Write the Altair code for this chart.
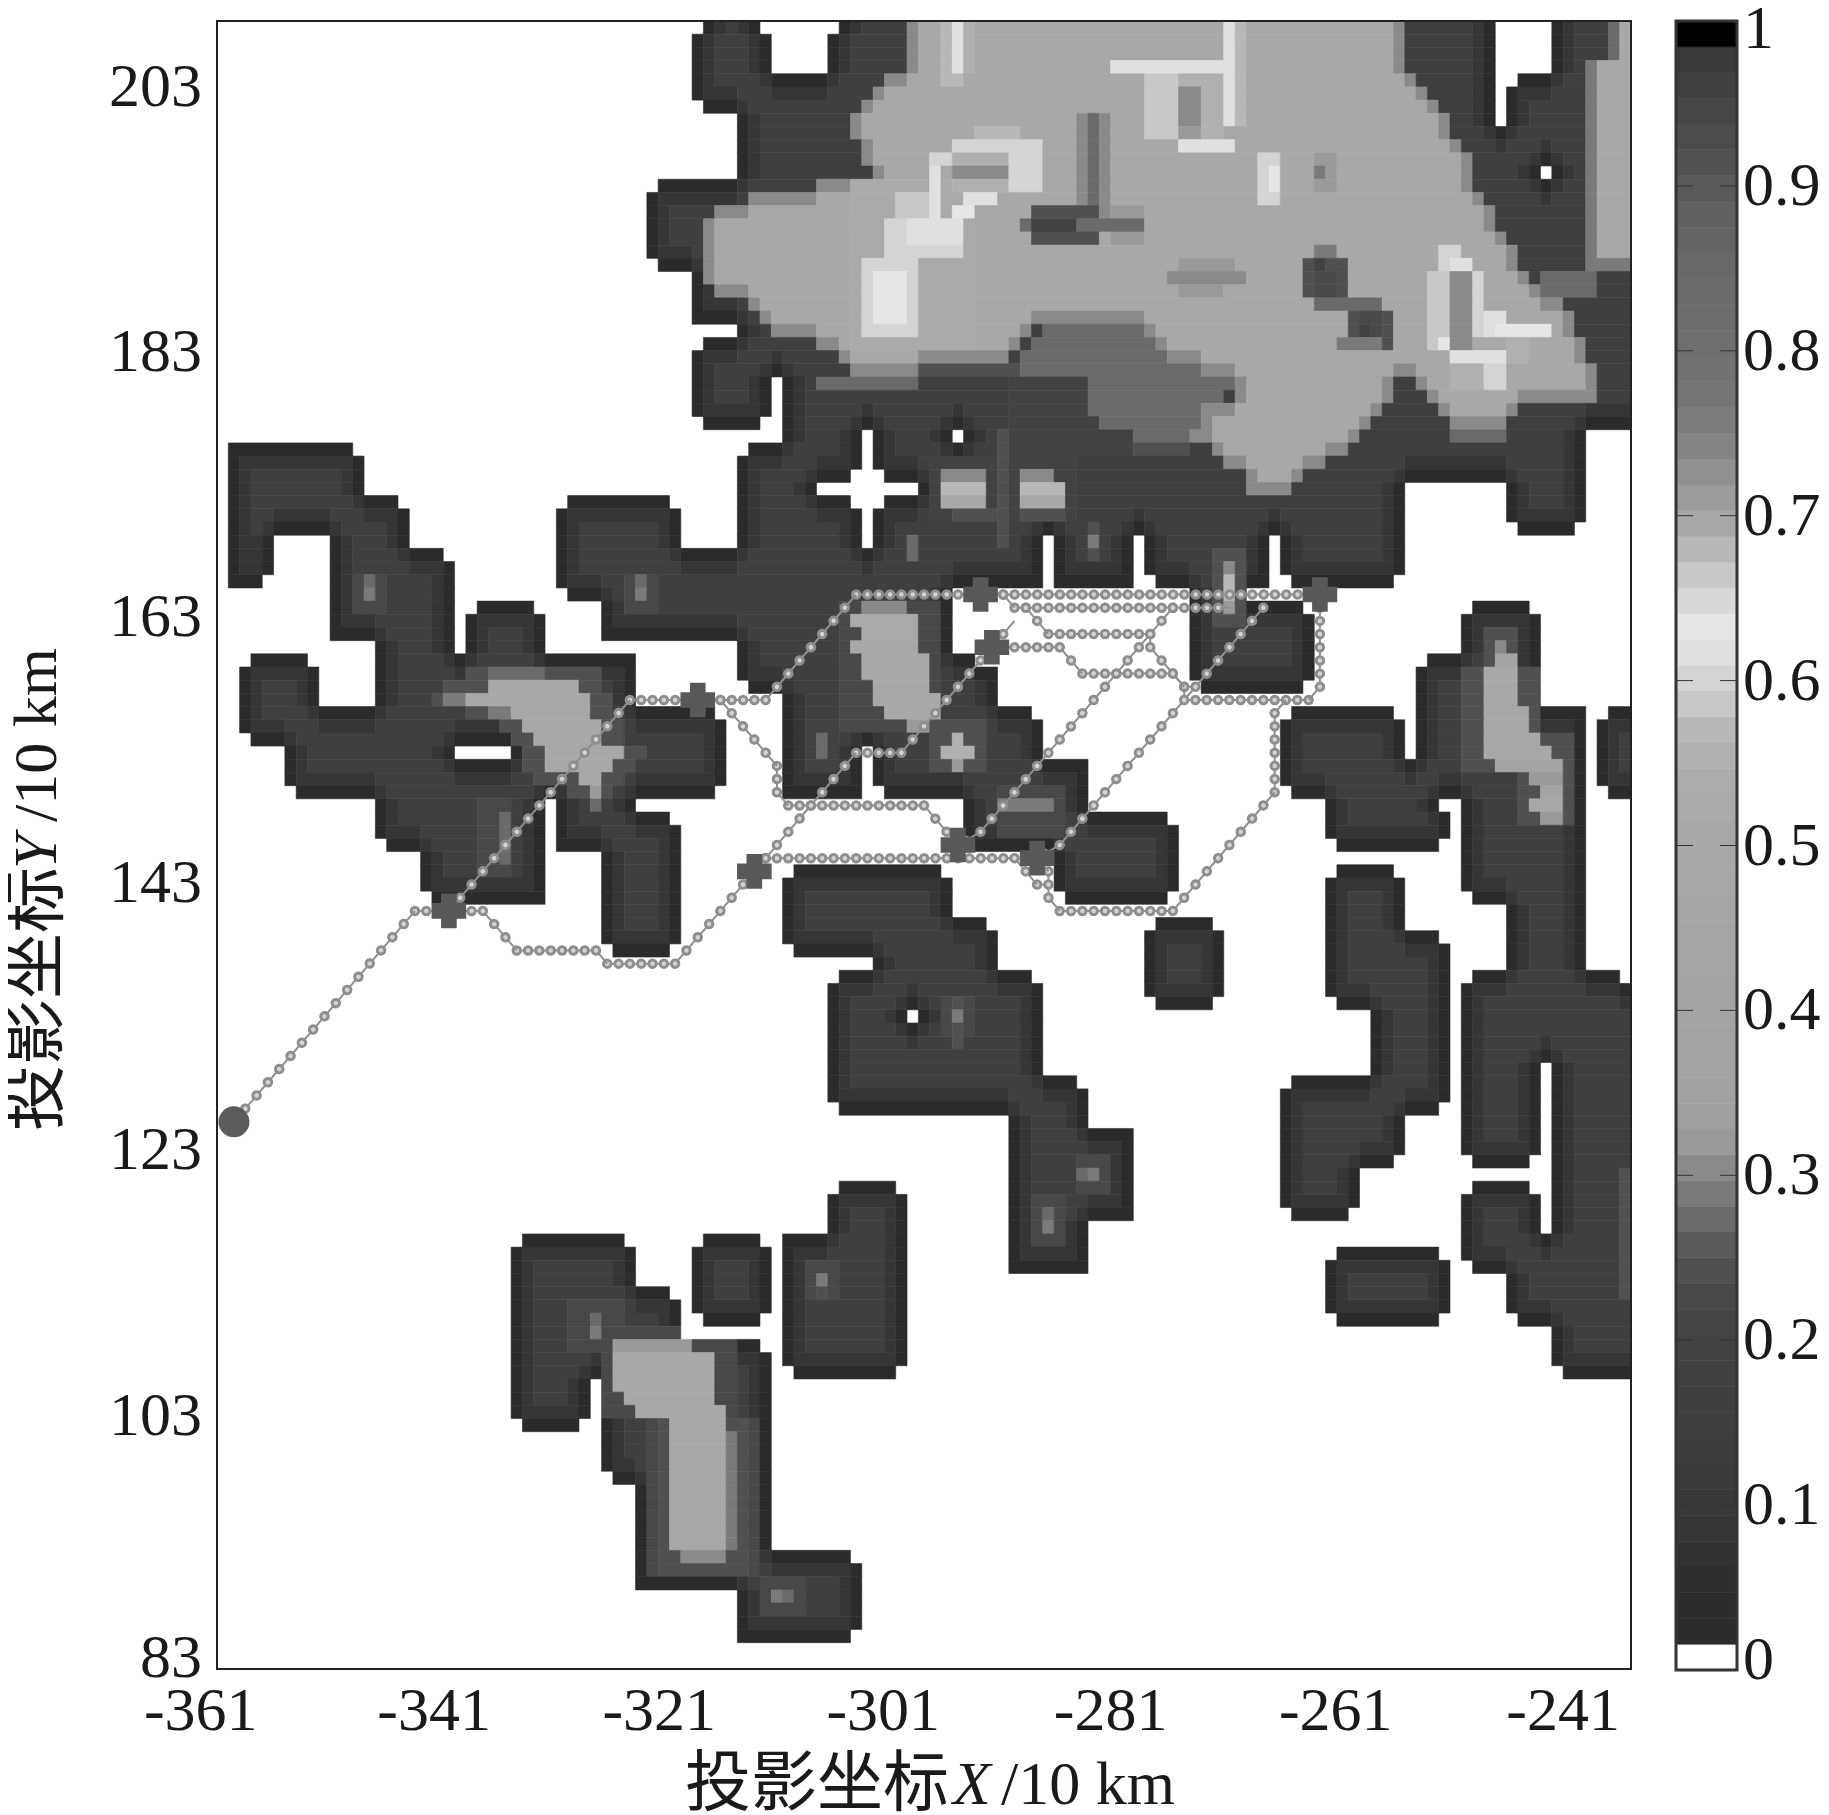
import numpy as np
import pandas as pd
import altair as alt

alt.data_transformers.disable_max_rows()

N = 125
# (row0, row1, col0, col1): areas where the field is above zero
MASK = [
 (0,1,43,48),(0,1,55,113),(0,1,118,125),(1,4,42,49),(1,4,54,113),(1,4,118,125),
 (4,5,42,113),(4,5,115,125),(5,6,42,113),(5,6,114,125),(6,7,43,113),(6,7,114,125),
 (7,8,46,113),(7,8,114,125),(8,12,46,125),(12,13,39,125),(13,18,38,125),(18,19,39,125),
 (19,23,42,125),(23,24,46,125),(24,25,43,125),(25,27,42,125),(27,30,42,49),(27,30,50,125),
 (30,31,43,48),(30,31,50,125),(31,32,50,57),(31,32,58,65),(31,32,66,121),(32,33,47,57),
 (32,33,58,121),(33,35,46,121),(35,42,46,105),(42,43,46,104),(35,38,114,121),(38,39,115,120),
 (36,37,31,40),(37,40,30,41),(40,43,30,46),(43,44,31,65),(44,47,34,65),(47,48,46,65),
 (48,49,46,67),(49,50,46,69),(50,51,47,69),(51,52,50,69),(52,53,50,72),(53,56,50,73),
 (56,58,50,77),(58,59,50,77),(59,63,66,77),(60,61,77,84),(61,66,74,85),(66,67,75,84),
 (43,44,86,91),(44,45,86,96),(45,50,86,97),(50,51,87,96),
 (32,33,1,12),(33,36,1,13),(36,37,1,16),(37,39,1,17),(39,40,1,5),(39,40,10,17),(40,42,1,5),
 (42,43,1,4),(40,41,10,20),(41,47,10,21),(47,48,14,21),(44,45,23,28),(45,48,22,29),
 (48,52,14,37),(48,49,3,8),(49,52,2,9),(52,53,2,44),(53,54,2,45),(54,55,3,45),(55,58,6,45),
 (58,59,7,44),(59,62,14,29),(59,60,30,37),(60,61,30,40),(61,63,30,41),(62,63,15,29),
 (63,66,18,29),(66,67,19,29),(63,70,34,41),(70,71,35,40),
 (64,65,51,64),(65,68,50,65),(68,69,50,68),(69,70,50,69),(70,71,51,69),(71,72,58,69),
 (72,73,55,72),(73,80,54,73),(80,81,54,76),(81,82,54,77),(82,83,55,77),(83,84,70,77),
 (84,91,70,81),(91,95,70,77),(68,69,83,88),(69,74,82,89),(74,75,83,88),
 (88,89,55,60),(89,92,54,61),(92,102,50,61),(102,103,51,60),(92,93,43,48),(93,98,42,49),
 (98,99,43,48),(92,93,27,36),(93,96,26,37),(96,97,26,40),(97,100,26,41),(100,101,26,48),
 (101,103,26,49),(103,106,26,33),(103,110,34,49),(106,107,27,32),(110,111,35,49),
 (111,116,37,49),(116,117,37,56),(117,119,37,57),(119,122,46,57),(122,123,46,56),
 (44,45,111,116),(45,48,110,117),(48,49,107,117),(49,52,106,117),(52,53,95,104),(52,53,106,121),
 (53,56,94,105),(53,56,106,121),(56,58,94,121),(58,59,95,121),(59,60,98,108),(60,62,98,109),
 (62,63,99,108),(59,66,110,121),(66,67,111,121),(67,72,114,121),(72,73,111,124),(73,86,110,125),
 (86,87,111,116),(86,92,118,125),(88,89,111,116),(89,92,110,117),(92,94,110,125),(94,95,111,125),
 (95,98,114,125),(98,99,115,125),(99,102,118,125),(102,103,119,125),
 (64,65,99,104),(65,69,98,105),(69,70,98,108),(70,74,98,109),(74,75,99,109),(75,80,102,109),
 (80,81,95,109),(81,82,94,109),(82,83,94,108),(83,86,94,105),(86,87,94,104),(87,90,94,101),
 (90,91,95,100),(93,94,99,108),(94,98,98,109),(98,99,99,108),(52,53,123,125),(53,58,122,125),
 (58,59,123,125),
]
# white holes inside those areas
HOLES = [
 (31,40,57,58),(35,36,53,62),(34,37,56,59),(39,43,73,74),(39,43,81,82),(42,43,82,83),
 (39,43,93,94),(42,43,94,95),(55,59,57,58),(58,59,58,59),(55,56,21,26),(75,76,61,62),
 (11,12,117,118),(79,92,117,118),
]
# the pale plateau at the top: row, col0, col1
PLATEAU = [
 (0,61,105),(1,61,105),(2,61,105),(3,61,105),(4,59,106),(5,58,107),(6,57,108),(7,56,109),(8,56,109),
 (9,57,110),(10,57,111),(11,58,111),(12,53,111),(13,47,112),(14,44,113),(15,43,113),(16,43,114),
 (17,43,115),(18,43,115),(19,43,116),(20,44,117),(21,47,119),(22,48,120),(23,49,72),(23,82,120),
 (24,53,71),(24,83,121),(25,55,70),(25,84,121),(26,56,62),(26,87,122),(27,90,104),(27,106,122),
 (28,90,104),(28,107,122),(29,87,103),(29,108,115),(30,87,102),(30,109,114),(31,86,101),
 (32,88,100),(33,89,98),(34,91,96),(35,91,95),
]
RIM, RING, BODY, PLATEAU_RIM, PLATEAU_BODY = 0.03, 0.08, 0.17, 0.30, 0.48
# later patches are painted over earlier ones: row0, row1, col0, col1, value
PATCHES = [
 (27,28,53,62,.27),(26,27,62,71,.24),(27,33,70,81,.2),(23,24,73,82,.27),(24,25,72,83,.27),
 (25,26,71,84,.27),(26,27,71,87,.27),(27,28,77,90,.27),(28,29,77,89,.27),(29,30,77,87,.27),
 (30,31,78,87,.27),(31,32,81,86,.27),(32,33,81,86,.24),(31,32,109,114,.27),
 (0,3,124,125,.48),(0,3,123,124,.27),(3,18,122,125,.48),(3,19,121,122,.29),(18,19,122,125,.29),
 (19,21,117,122,.27),
 (12,25,56,67,.53),
 (0,5,64,66,.565),(0,4,65,66,.615),(0,4,66,67,.55),(3,4,79,90,.615),(0,8,89,90,.615),(0,8,90,91,.565),
 (9,10,85,90,.615),(4,9,82,85,.58),(4,9,85,89,.55),(5,8,85,87,.305),(8,9,85,87,.32),
 (10,14,92,94,.60),(11,13,93,94,.63),(10,13,97,99,.32),(11,12,97,98,.29),
 (18,19,85,90,.32),(19,20,84,91,.305),(20,21,85,89,.32),
 (17,18,97,99,.29),(18,21,96,100,.245),(18,20,97,98,.2),(19,21,97,99,.22),(21,22,97,103,.27),
 (22,25,100,104,.245),(22,24,101,103,.22),(23,24,101,102,.2),(24,25,99,103,.29),
 (17,19,108,110,.6),(19,25,107,109,.58),(18,25,109,111,.305),(18,19,109,111,.615),(19,24,111,112,.60),
 (22,24,112,114,.615),(23,24,113,118,.63),(24,25,108,109,.63),(25,26,109,114,.615),(26,28,109,112,.55),
 (26,28,112,114,.6),(24,26,114,116,.55),
 (7,16,76,79,.305),(7,16,77,78,.27),(14,17,72,78,.245),(14,17,79,82,.32),(15,16,71,82,.27),(15,16,72,76,.2),
 (13,18,60,64,.58),(15,18,59,66,.6),(18,24,57,62,.6),(19,23,58,61,.63),
 (11,15,63,64,.615),(10,11,63,65,.6),(9,10,65,71,.6),(8,9,67,71,.565),(9,13,70,73,.6),(10,11,65,70,.55),
 (11,12,65,70,.305),(12,13,65,70,.55),(13,14,66,69,.615),(14,15,65,67,.63),(15,17,61,66,.615),
 # blob with the bright core on the left
 (49,50,22,34,.245),(50,51,20,34,.245),(51,52,19,35,.245),(52,53,22,35,.245),(53,54,25,36,.245),
 (54,55,26,36,.245),(55,56,27,38,.245),(56,57,27,37,.245),(57,58,28,36,.245),(58,59,31,35,.245),
 (49,50,24,29,.27),(50,51,24,32,.48),(51,52,22,33,.48),(52,53,26,33,.48),(53,54,27,34,.48),
 (54,55,28,34,.48),(55,56,29,36,.48),(56,57,29,35,.48),(57,58,32,34,.48),(58,59,33,34,.32),
 (59,60,33,34,.27),(51,52,20,22,.29),(52,53,24,26,.29),(59,65,23,26,.22),(60,64,25,26,.27),
 (42,45,12,15,.22),(42,44,13,14,.27),(43,44,13,14,.29),(42,45,36,39,.22),(42,44,37,38,.27),(43,44,37,38,.29),
 # central ellipse
 (44,54,55,64,.22),(44,45,57,61,.305),(45,46,56,62,.53),(46,47,57,62,.53),(47,48,56,62,.5),(48,50,57,63,.5),
 (50,51,58,63,.5),(51,52,58,64,.5),(52,53,59,64,.5),(53,54,61,64,.32),
 (53,57,63,68,.245),(54,55,65,66,.55),(55,56,64,67,.55),(56,57,65,66,.32),(53,57,52,55,.2),(54,56,53,54,.27),
 (58,62,69,75,.22),(59,60,69,74,.29),
 (33,38,63,76,.2),(31,40,69,70,.24),(34,35,64,68,.305),(34,35,71,74,.305),(35,36,64,68,.565),(35,36,71,75,.565),
 (36,37,64,68,.48),(36,37,71,75,.48),(37,38,65,69,.245),(37,38,71,75,.245),(39,41,61,62,.27),(38,41,77,78,.245),(39,40,77,78,.29),
 (40,46,88,91,.24),(41,42,89,90,.305),(42,44,89,90,.565),(44,45,89,90,.32),
 # right streak
 (46,49,112,115,.245),(49,54,110,117,.245),(54,57,110,120,.245),(57,61,115,120,.245),
 (47,48,113,114,.305),(48,49,113,115,.4),(49,52,112,115,.48),(52,54,112,116,.48),(54,55,112,117,.48),
 (55,56,112,118,.48),(56,57,113,119,.4),(57,58,116,119,.32),(58,59,117,119,.4),(59,60,116,119,.48),(60,61,117,119,.32),
 # small spots
 (74,77,64,67,.22),(74,78,65,66,.245),(75,76,65,66,.29),(86,89,76,79,.22),(87,88,76,77,.27),(87,88,77,78,.29),
 (89,93,72,75,.22),(90,91,73,74,.27),(91,92,73,74,.29),(94,97,52,55,.22),(96,97,53,54,.245),(95,96,53,54,.29),
 (97,101,31,36,.22),(98,99,33,34,.27),(99,100,33,34,.29),(118,121,48,52,.22),(119,120,50,51,.27),(119,120,49,50,.29),
 (87,97,124,125,.245),
 # bottom bar
 (99,106,34,46,.22),(106,118,38,48,.22),(106,118,39,47,.245),(100,101,35,42,.32),(101,102,35,44,.48),
 (102,104,35,44,.5),(104,105,36,44,.48),(105,106,37,45,.48),(106,116,40,45,.48),(116,117,41,45,.305),(107,116,45,46,.29),
]
GRAYS = ["ff","2b","2d","2f","33","36","39","3b","3d","3e","3f","40","42","44","48","50","5a","6a","7a","8a",
         "9a","a0","a2","a3","a3","a4","a4","a5","a5","a6","a8","a8","a8","aa","ac","b0","b8","c8","d4","e0",
         "e6","d8","c8","b8","a8","9c","90","84","7c","76","72","6e","6c","6a","68","64","60","5a","52","4c",
         "46","40","3a","00"]
# route polylines, in grid col/row
ROUTES = [
 [(1.5,83.5),(17.5,67.5),(20.5,67.5),(36.5,51.5),(48.5,51.5),(56.5,43.5),(96.5,43.5),(97.5,44.5),(97.5,50.5),(96.5,51.5),(85.5,51.5),(74.5,62.5),(72.5,63.5)],
 [(20.5,67.5),(23.5,67.5),(26.5,70.5),(33.5,70.5),(34.5,71.5),(40.5,71.5),(46.5,65.5),(48.5,63.5),(53.5,58.5),(56.5,55.5),(60.5,55.5),(64.5,51.5),(70.5,45.5)],
 [(44.5,51.5),(49.5,56.5),(49.5,58.5),(50.5,59.5),(62.5,59.5),(65.5,62.5)],
 [(48.5,63.5),(70.5,63.5),(72.5,65.5),(73.5,65.5)],
 [(72.5,63.5),(73.5,64.5),(73.5,66.5),(74.5,67.5),(84.5,67.5),(93.5,58.5),(93.5,52.5),(94.5,51.5)],
 [(69.5,43.5),(70.5,44.5),(89.5,44.5)],
 [(71.5,44.5),(73.5,46.5),(82.5,46.5),(82.5,47.5),(84.5,49.5),(85.5,50.5),(85.5,51.5)],
 [(68.5,47.5),(74.5,47.5),(76.5,49.5),(84.5,49.5),(85.5,50.5),(86.5,50.5)],
 [(84.5,44.5),(67.5,61.5),(65.5,62.5)],
 [(92.5,44.5),(85.5,51.5)],
]
CROSS_COL = [20.5,42.5,47.5,65.5,72.5,67.5,68.5,97.5]
CROSS_ROW = [67.5,51.5,64.5,62.5,63.5,43.5,47.5,43.5]
START_COL, START_ROW = [1.5], [83.5]

X_LABELS = ["-361","-341","-321","-301","-281","-261","-241"]
X_LABEL_COL = [-1.44,19.2,39.1,58.9,79,98.9,119]
Y_LABELS = ["203","183","163","143","123","103","83"]
Y_LABEL_ROW = [5.04,25.1,45.2,65.4,85.6,105.8,124.2]
CB_LABELS = ["0","0.1","0.2","0.3","0.4","0.5","0.6","0.7","0.8","0.9","1"]
CB_LABEL_POS = [0.006,0.1,0.2,0.3,0.4,0.5,0.6,0.7,0.8,0.9,0.995]
CB_TICKS = [0.1,0.2,0.3,0.4,0.5,0.6,0.7,0.8,0.9]

X0, TOP = -360, 208
SERIF = "Liberation Serif"
CJK = "Noto Sans CJK SC"
INK = "#1a1a1a"
W, H = 1414, 1648

def paint(spans):
    g = np.zeros((N, N), dtype=bool)
    for r0, r1, c0, c1 in spans:
        g[r0:r1, c0:c1] = True
    return g

def erode(g):
    p = np.pad(g, 1, constant_values=True)
    return p[1:-1,1:-1] & p[:-2,1:-1] & p[2:,1:-1] & p[1:-1,:-2] & p[1:-1,2:]

mask = paint(MASK)
mask &= ~paint(HOLES)
in1 = erode(mask)
in2 = erode(in1)
field = np.zeros((N, N))
field[mask] = RIM
field[in1] = RING
field[in2] = BODY
pl = paint([(r, r + 1, a, b) for r, a, b in PLATEAU]) & mask
field[pl] = PLATEAU_RIM
field[erode(pl)] = PLATEAU_BODY
for r0, r1, c0, c1, v in PATCHES:
    sel = np.zeros((N, N), dtype=bool)
    sel[r0:r1, c0:c1] = True
    field[sel & mask] = v

rows = []
for r in range(N):
    c = 0
    while c < N:
        v = field[r, c]
        e = c + 1
        while e < N and field[r, e] == v:
            e += 1
        if v > 0:
            rows.append(dict(x0=X0 + c, x1=X0 + e, y0=TOP - r, y1=TOP - r - 1, v=float(v)))
        c = e
cells = pd.DataFrame(rows)

palette = ["#" + g * 3 for g in GRAYS]
cscale = alt.Scale(type="quantize", domain=[0, 1], range=palette)
xs = alt.Scale(domain=[X0, X0 + N], nice=False, zero=False)
ys = alt.Scale(domain=[TOP - N, TOP], nice=False, zero=False)

heat = alt.Chart(cells).mark_rect(strokeWidth=0.6).encode(
    x=alt.X("x0:Q", scale=xs, axis=None), x2="x1:Q",
    y=alt.Y("y0:Q", scale=ys, axis=None), y2="y1:Q",
    color=alt.Color("v:Q", scale=cscale, legend=None),
    stroke=alt.Stroke("v:Q", scale=cscale, legend=None),
)

segs = {"h": [], "v": [], "d": []}
sid = 0
for route in ROUTES:
    for (a, b), (c, d) in zip(route[:-1], route[1:]):
        kind = "h" if b == d else ("v" if a == c else "d")
        sid += 1
        segs[kind].append(dict(id=sid, o=0, x=X0 + a, y=TOP - b))
        segs[kind].append(dict(id=sid, o=1, x=X0 + c, y=TOP - d))
GAP = {"h": 11.31, "v": 13.18, "d": 17.37}
route_layers = []
for kind in segs:
    df = pd.DataFrame(segs[kind])
    enc = dict(x=alt.X("x:Q", scale=xs, axis=None), y=alt.Y("y:Q", scale=ys, axis=None),
               detail="id:N", order="o:Q")
    route_layers.append(alt.Chart(df).mark_line(color="#8e8e8e", strokeWidth=2).encode(**enc))
    route_layers.append(alt.Chart(df).mark_line(color="#8e8e8e", strokeWidth=10.5, strokeCap="round",
                                                strokeDash=[0.01, GAP[kind]]).encode(**enc))
    route_layers.append(alt.Chart(df).mark_line(color="#d4d4d4", strokeWidth=4.5, strokeCap="round",
                                                strokeDash=[0.01, GAP[kind]]).encode(**enc))

crosses = alt.Chart(pd.DataFrame({"x": [X0 + c for c in CROSS_COL], "y": [TOP - r for r in CROSS_ROW]})).mark_point(
    shape="cross", filled=True, size=1000, color="#595959", opacity=1, stroke="#595959", strokeWidth=3
).encode(x=alt.X("x:Q", scale=xs, axis=None), y=alt.Y("y:Q", scale=ys, axis=None))
start = alt.Chart(pd.DataFrame({"x": [X0 + c for c in START_COL], "y": [TOP - r for r in START_ROW]})).mark_circle(
    size=960, color="#5c5c5c", opacity=1
).encode(x=alt.X("x:Q", scale=xs, axis=None), y=alt.Y("y:Q", scale=ys, axis=None))

frame = alt.Chart(pd.DataFrame({"a": [X0], "b": [X0 + N], "c": [TOP - N], "d": [TOP]})).mark_rect(
    fill="transparent", stroke="#222222", strokeWidth=2
).encode(x=alt.X("a:Q", scale=xs, axis=None), x2="b:Q", y=alt.Y("c:Q", scale=ys, axis=None), y2="d:Q")

xlab = alt.Chart(pd.DataFrame({"t": X_LABELS, "x": [X0 + c for c in X_LABEL_COL]})).mark_text(
    font=SERIF, fontSize=62, color=INK, align="center", baseline="middle"
).encode(x=alt.X("x:Q", scale=xs, axis=None), y=alt.value(1690), text="t:N")
ylab = alt.Chart(pd.DataFrame({"t": Y_LABELS, "y": [TOP - r for r in Y_LABEL_ROW]})).mark_text(
    font=SERIF, fontSize=62, color=INK, align="right", baseline="middle"
).encode(y=alt.Y("y:Q", scale=ys, axis=None), x=alt.value(-15), text="t:N")

def txt(s, x, y, font, size, angle=0, style="normal"):
    return alt.Chart(pd.DataFrame({"t": [s]})).mark_text(
        font=font, fontSize=size, color=INK, align="left", baseline="middle", angle=angle, fontStyle=style
    ).encode(x=alt.value(x), y=alt.value(y), text="t:N")

titles = [
    txt("投影坐标", 468, 1764, CJK, 66),
    txt("X", 736, 1764, SERIF, 62, style="italic"),
    txt("/10 km", 784, 1764, SERIF, 62),
    txt("投影坐标", -180, 1110, CJK, 66, angle=270),
    txt("Y", -180, 848, SERIF, 62, angle=270, style="italic"),
    txt("/10 km", -180, 801, SERIF, 62, angle=270),
]

main = alt.layer(heat, *route_layers, start, crosses, frame, xlab, ylab, *titles)

# colour bar
cby = alt.Scale(domain=[0, 1], range=[1649, 0], nice=False, zero=False)
steps = pd.DataFrame({"lo": [i / 64 for i in range(64)], "hi": [(i + 1) / 64 for i in range(64)],
                      "v": [(i + 0.5) / 64 for i in range(64)]})
cb = alt.Chart(steps).mark_rect(strokeWidth=0.6).encode(
    x=alt.value(1459), x2=alt.value(1520),
    y=alt.Y("lo:Q", scale=cby, axis=None), y2="hi:Q",
    color=alt.Color("v:Q", scale=cscale, legend=None),
    stroke=alt.Stroke("v:Q", scale=cscale, legend=None),
)
tick_df = pd.DataFrame({"t": CB_TICKS})
t1 = alt.Chart(tick_df).mark_rule(color="#333333", strokeWidth=1).encode(
    x=alt.value(1459), x2=alt.value(1476), y=alt.Y("t:Q", scale=cby, axis=None))
t2 = alt.Chart(tick_df).mark_rule(color="#333333", strokeWidth=1).encode(
    x=alt.value(1503), x2=alt.value(1520), y=alt.Y("t:Q", scale=cby, axis=None))
cbframe = alt.Chart(pd.DataFrame({"a": [0], "b": [1]})).mark_rect(
    fill="transparent", stroke="#333333", strokeWidth=3
).encode(x=alt.value(1459), x2=alt.value(1520), y=alt.Y("a:Q", scale=cby, axis=None), y2="b:Q")
cblab = alt.Chart(pd.DataFrame({"t": CB_LABELS, "p": CB_LABEL_POS})).mark_text(
    font=SERIF, fontSize=62, color=INK, align="left", baseline="middle"
).encode(x=alt.value(1526), y=alt.Y("p:Q", scale=cby, axis=None), text="t:N")
cbar = alt.layer(cb, t1, t2, cbframe, cblab)

chart = alt.layer(main, cbar).resolve_scale(
    x="independent", y="independent", color="independent", stroke="independent"
).properties(
    width=W, height=H,
    autosize=alt.AutoSizeParams(type="none"),
    padding={"left": 209, "top": 13, "right": 190, "bottom": 146},
    background="white",
).configure_view(stroke=None)

chart.save("out.html", embed_options={"renderer": "svg", "actions": False})
